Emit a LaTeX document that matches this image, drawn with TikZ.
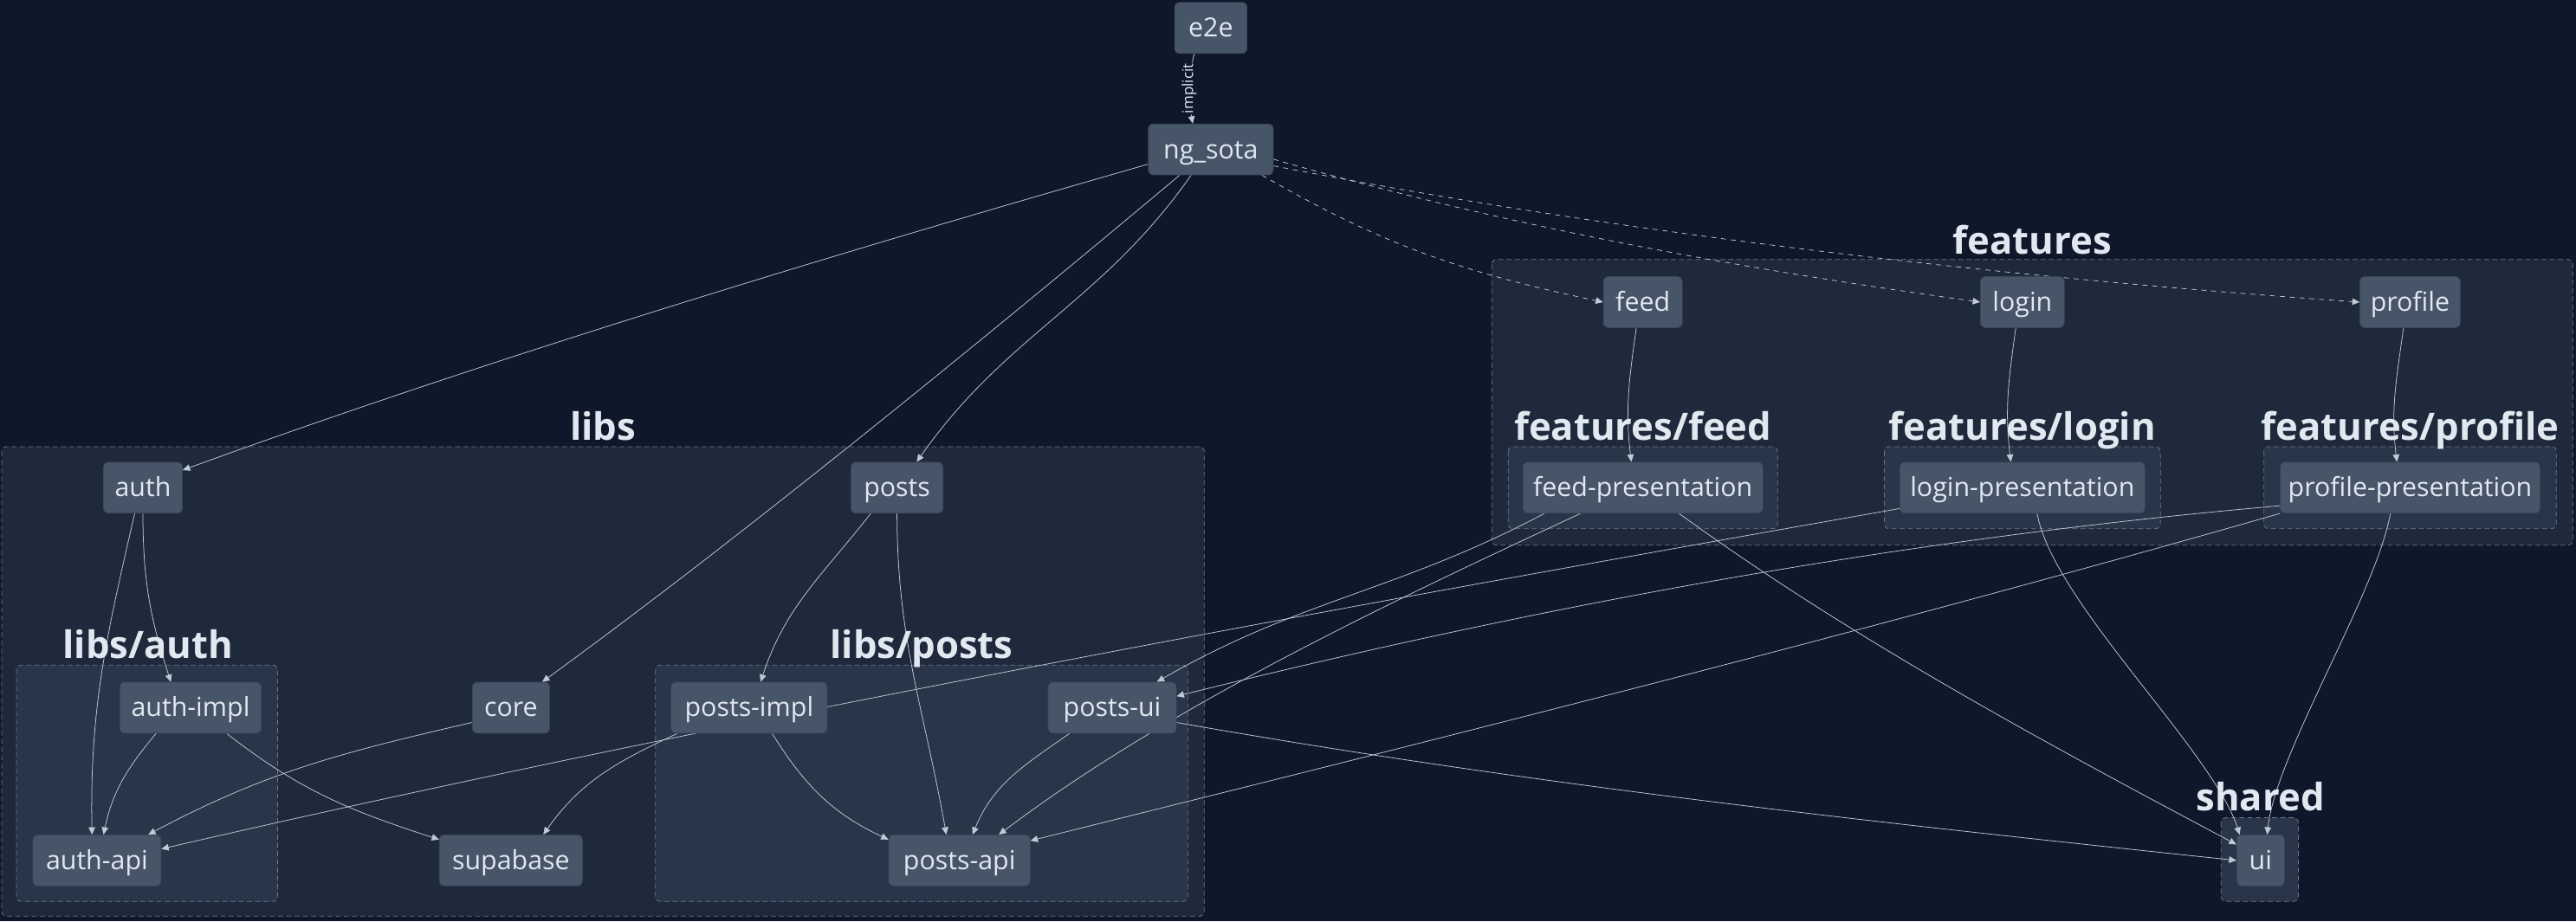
\documentclass[tikz,border=0pt]{standalone}
\usepackage{fontspec}
\setmainfont{Open Sans}
\usetikzlibrary{arrows,arrows.meta,backgrounds,positioning}
\pgfdeclarelayer{back}
\pgfsetlayers{back,background,main}
\definecolor{bgc}{HTML}{0F172A}
\definecolor{grpfill}{HTML}{1E293B}
\definecolor{subfill}{HTML}{293548}
\definecolor{grpline}{HTML}{6B778A}
\definecolor{nodefill}{HTML}{475569}
\definecolor{nodeline}{HTML}{3A475A}
\definecolor{txt}{HTML}{E2E8F0}
\definecolor{edgec}{HTML}{C0C9D6}

\begin{document}
\begin{tikzpicture}[->, >={Triangle[length=4.5pt,width=4pt]}, x=1pt, y=1pt, line width=0.5pt]
\tikzstyle{block} = [rectangle, draw=nodeline, fill=nodefill, text=txt, 
rounded corners=3pt, minimum height=31pt, inner xsep=2pt, text height=12.5pt, text depth=1.5pt,
font=\fontsize{16}{19}\selectfont]
\tikzstyle{group} = [-, draw=grpline, dash pattern=on 3pt off 2pt, rounded corners=3pt]
\tikzstyle{title} = [text=txt, anchor=base, font=\fontsize{23}{27}\selectfont\bfseries]
\tikzstyle{line} = [draw=edgec, ->]
\tikzstyle{lab} = [rotate=90, text=txt, fill=bgc, inner sep=0.5pt, font=\fontsize{9}{10}\selectfont]
%% groups
\begin{pgfonlayer}{back}
\path[use as bounding box, fill=bgc] (0,0) rectangle (1568,-561);
\draw[group, fill=grpfill] (908,-158) rectangle (1566,-332);
\draw[group, fill=subfill] (918,-272) rectangle (1082,-322);
\draw[group, fill=subfill] (1147,-272) rectangle (1315,-322);
\draw[group, fill=subfill] (1378,-272) rectangle (1556,-322);
\draw[group, fill=grpfill] (1,-272) rectangle (733,-558);
\draw[group, fill=subfill] (10,-405) rectangle (169,-549);
\draw[group, fill=subfill] (399,-405) rectangle (723,-549);
\draw[group, fill=subfill] (1352,-498) rectangle (1399,-549);
\end{pgfonlayer}
\node[title] at (1237,-155) (T1){features};
\node[title] at (1000,-268) (T2){features/feed};
\node[title] at (1231,-268) (T3){features/login};
\node[title] at (1467,-268) (T4){features/profile};
\node[title] at (367,-268) (T5){libs};
\node[title] at (90,-401) (T6){libs/auth};
\node[title] at (561,-401) (T7){libs/posts};
\node[title] at (1376,-494) (T8){shared};
%% nodes
\node[block, minimum width=44pt] at (737,-17) (A1){e2e};
\node[block, minimum width=76pt] at (737,-91) (A2){ng\_sota};
\node[block, minimum width=48pt] at (1000,-184) (F1){feed};
\node[block, minimum width=51pt] at (1231,-184) (F2){login};
\node[block, minimum width=61pt] at (1467,-184) (F3){profile};
\node[block, minimum width=146pt] at (1000,-297) (F4){feed-presentation};
\node[block, minimum width=149pt] at (1231,-297) (F5){login-presentation};
\node[block, minimum width=158pt] at (1467,-297) (F6){profile-presentation};
\node[block, minimum width=48pt] at (87,-297) (L1){auth};
\node[block, minimum width=56pt] at (546,-297) (L2){posts};
\node[block, minimum width=86pt] at (116,-431) (L3){auth-impl};
\node[block, minimum width=47pt] at (311,-431) (L4){core};
\node[block, minimum width=78pt] at (59,-524) (L5){auth-api};
\node[block, minimum width=87pt] at (311,-524) (L6){supabase};
\node[block, minimum width=95pt] at (456,-431) (L7){posts-impl};
\node[block, minimum width=78pt] at (677,-431) (L8){posts-ui};
\node[block, minimum width=86pt] at (584,-524) (L9){posts-api};
\node[block, minimum width=29pt] at (1376,-524) (S1){ui};
%% arrows
\begin{scope}[on background layer]
\draw[line] ([xshift=-10pt]A1.south) to[out=-105,in=100] node[lab]{implicit} ([xshift=-11pt]A2.north);
\draw[line] ([yshift=-9pt]A2.west) .. controls +(196:200pt) and +(20:200pt) .. ([yshift=-5pt]L1.north east);
\draw[line] ([xshift=-19pt]A2.south) .. controls +(220:150pt) and +(36:150pt) .. ([xshift=19pt]L4.north);
\draw[line] ([xshift=-12pt]A2.south) to[out=235,in=55] ([xshift=12pt]L2.north);
\draw[line, dash pattern=on 3pt off 3pt] ([xshift=-7pt]A2.south east) to[out=-30,in=168] (F1.west);
\draw[line, dash pattern=on 3pt off 3pt] ([yshift=-6pt]A2.east) .. controls +(-16:150pt) and +(172:150pt) .. (F2.west);
\draw[line, dash pattern=on 3pt off 3pt] ([yshift=-10pt]A2.east) .. controls +(-11:220pt) and +(176:220pt) .. (F3.west);
\draw[line] ([xshift=-4pt]F1.south) to[out=-98,in=97] ([xshift=-7pt]F4.north);
\draw[line] ([xshift=-4pt]F2.south) to[out=-98,in=97] ([xshift=-7pt]F5.north);
\draw[line] ([xshift=-4pt]F3.south) to[out=-98,in=97] ([xshift=-8pt]F6.north);
\draw[line] ([xshift=-5pt]L1.south) to[out=-103,in=91] ([xshift=-3pt]L5.north);
\draw[line] (L1.south) to[out=-90,in=108] ([xshift=-12pt]L3.north);
\draw[line] ([xshift=-21pt]L3.south) to[out=-130,in=78] ([xshift=4pt]L5.north);
\draw[line] ([xshift=22pt]L3.south) to[out=-38,in=162] ([yshift=-3pt]L6.north west);
\draw[line] ([yshift=-9pt]L4.west) to[out=193,in=28] ([xshift=-8pt]L5.north east);
\draw[line] ([yshift=3pt]F5.south west) .. controls +(190:350pt) and +(13:350pt) .. ([yshift=7pt]L5.east);
\draw[line] ([xshift=4pt]L7.south west) to[out=205,in=55] ([xshift=-24pt]L6.north east);
\draw[line] ([xshift=14pt]L7.south) to[out=-58,in=155] ([yshift=-3pt]L9.north west);
\draw[line] ([xshift=-16pt]L2.south) to[out=-128,in=72] ([xshift=7pt]L7.north);
\draw[line] (L2.south) to[out=-90,in=100] ([xshift=-8pt]L9.north);
\draw[line] ([xshift=-26pt]L8.south) to[out=-145,in=68] ([xshift=8pt]L9.north);
\draw[line] ([xshift=-60pt]F4.south) to[out=208,in=30] ([xshift=-12pt]L8.north east);
\draw[line] ([xshift=-38pt]F4.south) .. controls +(205:130pt) and +(37:130pt) .. ([xshift=24pt]L9.north);
\draw[line] ([xshift=22pt]F4.south) .. controls +(-36:130pt) and +(152:130pt) .. ([yshift=-6pt]S1.north west);
\draw[line] ([xshift=9pt]F5.south) to[out=-80,in=108,looseness=0.6] ([xshift=2pt]S1.north west);
\draw[line] ([xshift=-12pt]F6.south) to[out=-100,in=84,looseness=0.6] ([xshift=4pt]S1.north);
\draw[line] ([yshift=-11pt]F6.west) .. controls +(185:230pt) and +(14:230pt) .. ([yshift=7pt]L8.east);
\draw[line] (F6.south west) .. controls +(196:260pt) and +(14:260pt) .. ([yshift=12pt]L9.east);
\draw[line] ([yshift=-9pt]L8.east) .. controls +(-10:220pt) and +(174:220pt) .. (S1.west);
\end{scope}
\end{tikzpicture}
\end{document}
